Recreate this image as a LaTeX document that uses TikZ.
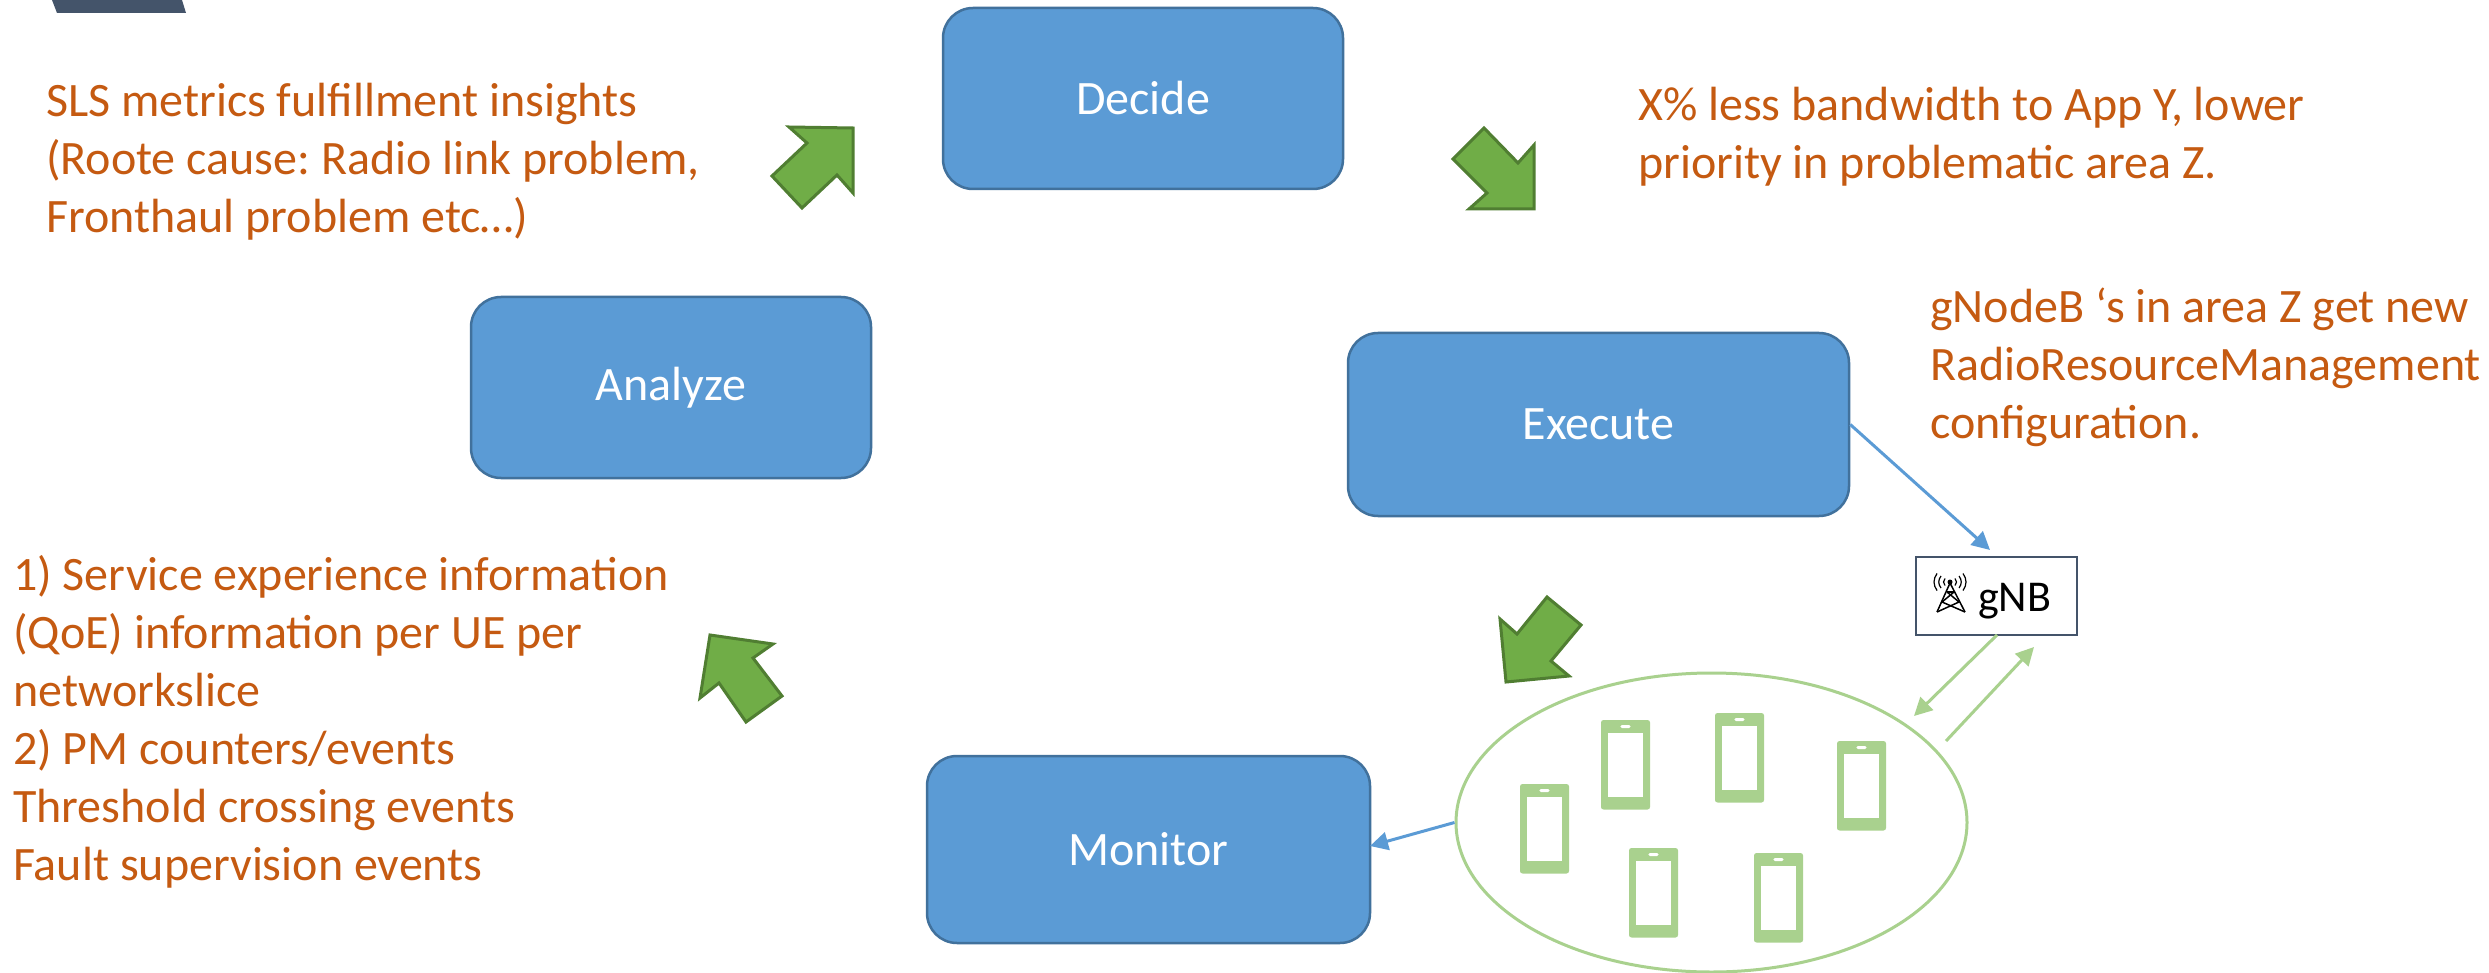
\documentclass[tikz,border=0pt]{standalone}
\usepackage{fontspec}
\setmainfont{Carlito}
\usetikzlibrary{arrows.meta,shapes.geometric}
\definecolor{boxblue}{HTML}{5B9BD5}
\definecolor{boxedge}{HTML}{41719C}
\definecolor{txtorange}{HTML}{C55A11}
\definecolor{lgreen}{HTML}{A9D18E}
\definecolor{agreen}{HTML}{70AD47}
\definecolor{aedge}{HTML}{507E32}
\definecolor{slate}{HTML}{44546A}
\tikzset{
  x=1pt,y=-1pt,
  stage/.style={draw=boxedge,line width=2.5pt,fill=boxblue,rounded corners=30pt,text=white,inner sep=0pt,
    font=\fontsize{48}{58}\selectfont},
  note/.style={text=txtorange,anchor=north west,align=left,inner sep=0pt,
    font=\fontsize{48}{58}\selectfont},
  bluelink/.style={draw=boxblue,line width=3pt,-{Triangle[length=18pt,width=18pt]}},
  greenlink/.style={draw=lgreen,line width=3pt,-{Triangle[length=18pt,width=18pt]}},
  bigarrow/.style={draw=aedge,line width=3pt,fill=agreen,line join=miter},
  phonebody/.style={fill=lgreen,rounded corners=2.5pt},
  phonescreen/.style={fill=white},
  towerline/.style={draw=black,line width=1.5pt},
}
\begin{document}
\frenchspacing
\begin{tikzpicture}
\useasboundingbox (0,0) rectangle (2489,973);
\fill[white] (0,0) rectangle (2489,973);
\fill[slate] (52,0) -- (182,0) -- (186,13) -- (57,13) -- cycle;
% stages
\node[stage,minimum width=400pt,minimum height=181pt] (decide) at (1143,98.5) {Decide};
\node[stage,minimum width=400pt,minimum height=181pt] (analyze) at (671,387.5) {Analyze};
\node[stage,minimum width=501pt,minimum height=183pt] (execute) at (1598.5,424.5) {Execute};
\node[stage,minimum width=443pt,minimum height=187pt] (monitor) at (1148.5,849.5) {Monitor};
% notes
\node[note] (n1) at (46,83) {SLS metrics fulfillment insights\\(Roote cause: Radio link problem,\\Fronthaul problem etc…)};
\node[note] (n2) at (1638,87) {X\% less bandwidth to App Y, lower\\priority in problematic area Z.};
\node[note] (n3) at (1930,288) {gNodeB ‘s in area Z get new\\RadioResourceManagement\\configuration.};
\node[note] (n4) at (13,555) {1) Service experience information\\(QoE) information per UE per\\networkslice\\2) PM counters/events\\Threshold crossing events\\Fault supervision events};
% big arrows
\draw[bigarrow] (789,127) -- (853,128) -- (853,193) -- (837,175) -- (802,208) -- (772,176) -- (807,143) -- cycle;
\draw[bigarrow] (1484,128) -- (1453,159) -- (1487,193) -- (1469,209) -- (1534,209) -- (1534,145) -- (1518,163) -- cycle;
\draw[bigarrow] (1547,597) -- (1581,625) -- (1551,661) -- (1569,676) -- (1506,682) -- (1500,619) -- (1517,634) -- cycle;
\draw[bigarrow] (710,635) -- (773,644) -- (753,658) -- (782,696) -- (746,722) -- (719,683) -- (700,698) -- cycle;
% UE group
\node[draw=lgreen,line width=3pt,ellipse,minimum width=511pt,minimum height=299pt,inner sep=0pt] (ue) at (1711.5,822.5) {};
\foreach \px/\py in {1520/784, 1601/720, 1715/713, 1837/741, 1629/848, 1754/853}{
  \fill[phonebody] (\px,\py) rectangle ++(49,89.5);
  \fill[phonescreen] (\px+6.7,\py+13) rectangle ++(35.6,63.5);
  \fill[white,rounded corners=1.5pt] (\px+19.3,\py+5) rectangle ++(10.4,3);
}
% gNB
\node[draw=slate,line width=2pt,fill=white,minimum width=161pt,minimum height=78pt,inner sep=0pt] (gnb) at (1996.5,596) {};
\node[anchor=base west,inner sep=0pt,font=\fontsize{44}{50}\selectfont] (gnblabel) at (1978,611) {gNB};
\begin{scope}[towerline]
  \draw (1950,583) -- (1937,612);
  \draw (1950,583) -- (1965,612);
  \draw (1947,592) -- (1954,592);
  \draw (1947,592) -- (1959,602) -- (1937,612);
  \draw (1954,592) -- (1942,602) -- (1965,612);
  \fill (1950,582) circle (2.5pt);
  \foreach \wa/\wb/\wc in {5/3.5/2, 9/6/3, 13/8.5/4}{
    \draw[line width=1.2pt] (1950-\wa,582-\wb) .. controls (1950-\wa-\wc,582-\wb/3) and (1950-\wa-\wc,582+\wb/3) .. (1950-\wa,582+\wb);
    \draw[line width=1.2pt] (1950+\wa,582-\wb) .. controls (1950+\wa+\wc,582-\wb/3) and (1950+\wa+\wc,582+\wb/3) .. (1950+\wa,582+\wb);
  }
\end{scope}
% connectors
\coordinate (gnbin) at (1990,550);
\coordinate (monin) at (1370,846);
\coordinate (gnbout) at (1997,635);
\coordinate (uein) at (1914,716);
\coordinate (ueup) at (1946,741);
\coordinate (gnbback) at (2034,647);
\draw[bluelink] (execute.east) -- (gnbin);
\draw[bluelink] (ue.west) -- (monin);
\draw[greenlink] (gnbout) -- (uein);
\draw[greenlink] (ueup) -- (gnbback);
\end{tikzpicture}
\end{document}
